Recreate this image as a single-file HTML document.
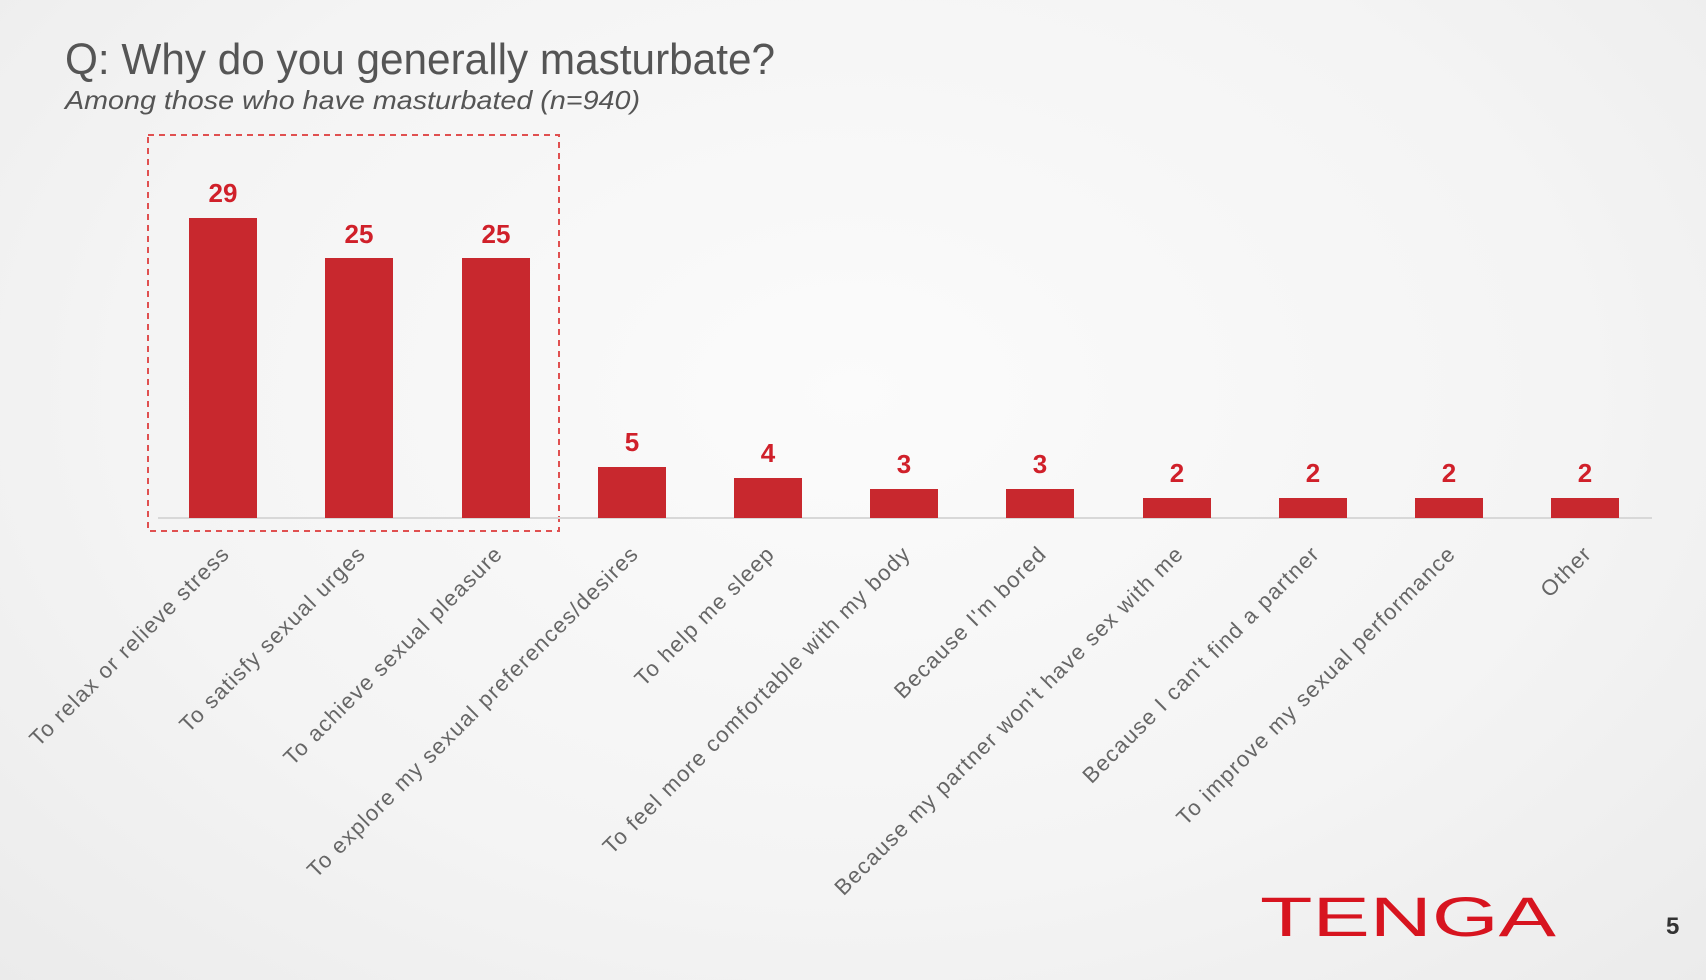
<!DOCTYPE html>
<html><head><meta charset="utf-8"><style>
html,body{margin:0;padding:0;}
body{width:1706px;height:980px;overflow:hidden;background:radial-gradient(ellipse at 50% 40%,#fbfbfb 0%,#f4f4f4 60%,#ebebeb 100%);}
svg{display:block}
</style></head><body>
<svg width="1706" height="980" viewBox="0 0 1706 980" font-family="'Liberation Sans', sans-serif">
<text x="65" y="74" font-size="44" fill="#555" textLength="710" lengthAdjust="spacingAndGlyphs">Q: Why do you generally masturbate?</text>
<text x="65" y="109" font-size="26" font-style="italic" fill="#555" textLength="575" lengthAdjust="spacingAndGlyphs">Among those who have masturbated (n=940)</text>
<rect x="148" y="135" width="411" height="396" fill="none" stroke="#e05050" stroke-width="2" stroke-dasharray="6,5"/>
<line x1="158" y1="518" x2="1652" y2="518" stroke="#d8d8d8" stroke-width="2"/>
<g fill="#c8282e">
<rect x="189" y="218" width="68" height="300"/>
<rect x="325" y="258" width="68" height="260"/>
<rect x="462" y="258" width="68" height="260"/>
<rect x="598" y="467" width="68" height="51"/>
<rect x="734" y="478" width="68" height="40"/>
<rect x="870" y="489" width="68" height="29"/>
<rect x="1006" y="489" width="68" height="29"/>
<rect x="1143" y="498" width="68" height="20"/>
<rect x="1279" y="498" width="68" height="20"/>
<rect x="1415" y="498" width="68" height="20"/>
<rect x="1551" y="498" width="68" height="20"/>
</g>
<g fill="#d0202a" font-size="26" font-weight="bold" text-anchor="middle">
<text x="223" y="202">29</text>
<text x="359" y="243">25</text>
<text x="496" y="243">25</text>
<text x="632" y="451">5</text>
<text x="768" y="462">4</text>
<text x="904" y="473">3</text>
<text x="1040" y="473">3</text>
<text x="1177" y="482">2</text>
<text x="1313" y="482">2</text>
<text x="1449" y="482">2</text>
<text x="1585" y="482">2</text>
</g>
<g fill="#666" font-size="22" letter-spacing="1.3" text-anchor="end">
<text transform="translate(231,555) rotate(-45)">To relax or relieve stress</text>
<text transform="translate(367,555) rotate(-45)">To satisfy sexual urges</text>
<text transform="translate(504,555) rotate(-45)">To achieve sexual pleasure</text>
<text transform="translate(640,555) rotate(-45)">To explore my sexual preferences/desires</text>
<text transform="translate(776,555) rotate(-45)">To help me sleep</text>
<text transform="translate(912,555) rotate(-45)">To feel more comfortable with my body</text>
<text transform="translate(1048,555) rotate(-45)">Because I'm bored</text>
<text transform="translate(1185,555) rotate(-45)">Because my partner won't have sex with me</text>
<text transform="translate(1321,555) rotate(-45)">Because I can't find a partner</text>
<text transform="translate(1457,555) rotate(-45)">To improve my sexual performance</text>
<text transform="translate(1593,555) rotate(-45)">Other</text>
</g>
<text x="1260" y="936" font-size="56" fill="#d7141f" textLength="296" lengthAdjust="spacingAndGlyphs">TENGA</text>
<text x="1666" y="934" font-size="24" font-weight="bold" fill="#333">5</text>
</svg>
</body></html>
